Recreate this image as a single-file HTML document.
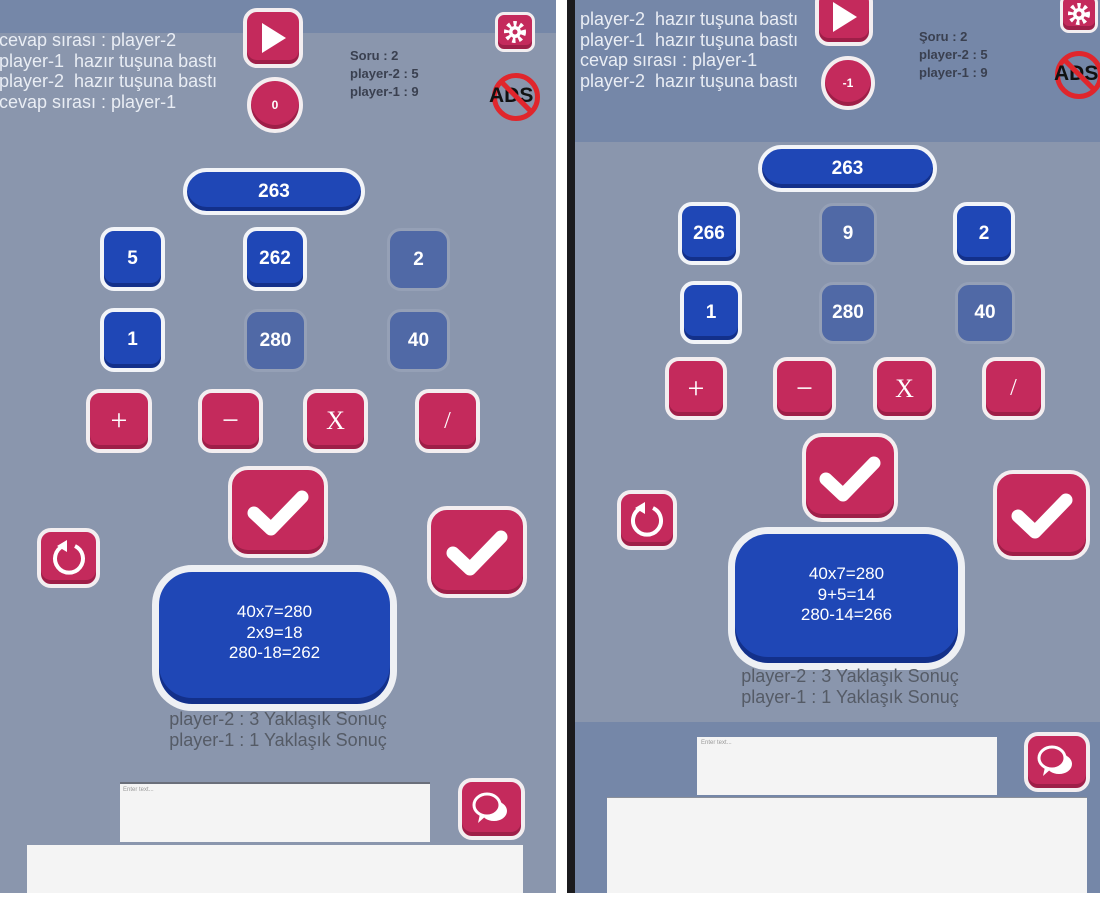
<!DOCTYPE html>
<html><head><meta charset="utf-8"><style>
*{margin:0;padding:0;box-sizing:border-box}
body{width:1100px;height:900px;overflow:hidden;background:#fff;position:relative;font-family:"Liberation Sans",sans-serif}
.a{position:absolute}
.pk{position:absolute;background:#c42a5c;border:4px solid #f3eef0;border-radius:14px;display:flex;align-items:center;justify-content:center;color:#fff;box-shadow:inset 0 -4px 0 #9e1f48}
.bl{position:absolute;background:#1f47b6;border:4px solid #f2f4f8;border-radius:14px;display:flex;align-items:center;justify-content:center;color:#fff;font-weight:bold;font-size:19px;box-shadow:inset 0 -4px 0 #13308a}
.fd{position:absolute;background:#5069a6;border:3px solid #95a0b6;border-radius:14px;display:flex;align-items:center;justify-content:center;color:#fff;font-weight:bold;font-size:19px}
.log{position:absolute;color:#e9edf4;font-size:18px;line-height:20.5px;white-space:pre}
.sc{position:absolute;color:#3a4050;font-size:13px;font-weight:bold;line-height:18px}
.res{position:absolute;background:#1f47b6;border:7px solid #eef0f4;border-radius:40px;color:#fff;font-size:17px;text-align:center;line-height:20.5px;box-shadow:inset 0 -6px 0 #13308a}
.yak{position:absolute;color:#555b66;font-size:18px;line-height:21px;text-align:center;white-space:nowrap}
.op{font-size:30px;font-family:"Liberation Serif",serif}
</style></head><body>
<div class="a" style="left:0;top:0;width:556px;height:893px;background:#8a96ad"></div>
<div class="a" style="left:0;top:0;width:556px;height:33px;background:#7587a8"></div>
<div class="a" style="left:556px;top:0;width:11px;height:900px;background:#fff"></div>
<div class="a" style="left:567px;top:0;width:8px;height:893px;background:#1b1b1e"></div>
<div class="a" style="left:575px;top:0;width:525px;height:893px;background:#8a96ad"></div>
<div class="a" style="left:575px;top:0;width:525px;height:142px;background:#7587a8"></div>
<div class="a" style="left:575px;top:722px;width:525px;height:171px;background:#7587a8"></div>

<!-- LEFT CONTENT -->
<div class="log" style="left:-1px;top:30px">cevap sırası : player-2
player-1  hazır tuşuna bastı
player-2  hazır tuşuna bastı
cevap sırası : player-1</div>
<div class="pk" style="left:243px;top:8px;width:60px;height:60px"><svg width="30" height="34"><polygon points="4,2 28,17 4,32" fill="#fff"/></svg></div>
<div class="pk" style="left:247px;top:77px;width:56px;height:56px;border-radius:50%;font-size:12px;font-weight:bold">0</div>
<div class="sc" style="left:350px;top:47px">Soru : 2<br>player-2 : 5<br>player-1 : 9</div>
<div class="pk" style="left:495px;top:12px;width:40px;height:40px;border-radius:9px;border-width:3px"><svg width="24" height="24"><circle cx="12" cy="12" r="8" fill="none" stroke="#fff" stroke-width="6" stroke-dasharray="3 3"/><circle cx="12" cy="12" r="6" fill="#fff"/><circle cx="12" cy="12" r="2.5" fill="#c42a5c"/></svg></div>
<div class="a" style="left:492px;top:73px;width:48px;height:48px;border:5px solid #e0262c;border-radius:50%"></div>
<div class="a" style="left:489px;top:84px;font-size:21px;font-weight:bold;color:#111">ADS</div>
<div class="a" style="left:494px;top:94px;width:44px;height:5px;background:#e0262c;transform:rotate(45deg)"></div>

<div class="bl" style="left:183px;top:168px;width:182px;height:47px;border-radius:24px">263</div>
<div class="bl" style="left:100px;top:227px;width:65px;height:64px">5</div>
<div class="bl" style="left:243px;top:227px;width:64px;height:64px">262</div>
<div class="fd" style="left:387px;top:228px;width:63px;height:63px">2</div>
<div class="bl" style="left:100px;top:308px;width:65px;height:64px">1</div>
<div class="fd" style="left:244px;top:309px;width:63px;height:63px">280</div>
<div class="fd" style="left:387px;top:309px;width:63px;height:63px">40</div>
<div class="pk op" style="left:86px;top:389px;width:66px;height:64px">+</div>
<div class="pk op" style="left:198px;top:389px;width:65px;height:64px">−</div>
<div class="pk op" style="left:303px;top:389px;width:65px;height:64px;font-size:26px">X</div>
<div class="pk op" style="left:415px;top:389px;width:65px;height:64px;font-size:24px">/</div>
<div class="pk" style="left:228px;top:466px;width:100px;height:92px;border-radius:20px"><svg width="64" height="50"><polyline points="8,26 25,42 56,10" fill="none" stroke="#fff" stroke-width="13" stroke-linecap="round" stroke-linejoin="round"/></svg></div>
<div class="pk" style="left:427px;top:506px;width:100px;height:92px;border-radius:20px"><svg width="64" height="50"><polyline points="8,26 25,42 56,10" fill="none" stroke="#fff" stroke-width="13" stroke-linecap="round" stroke-linejoin="round"/></svg></div>
<div class="pk" style="left:37px;top:528px;width:63px;height:60px"><svg width="40" height="40"><path d="M14 8 A14 14 0 1 0 26 8" fill="none" stroke="#fff" stroke-width="4"/><polygon points="8,8 18,2 18,14" fill="#fff"/></svg></div>
<div class="res" style="left:152px;top:565px;width:245px;height:146px;padding-top:30px">40x7=280<br>2x9=18<br>280-18=262</div>
<div class="yak" style="left:150px;top:709px;width:256px">player-2 : 3 Yaklaşık Sonuç<br>player-1 : 1 Yaklaşık Sonuç</div>
<div class="a" style="left:120px;top:782px;width:310px;height:60px;background:#f4f4f4;border-top:2px solid #6a6f7a;font-size:6px;color:#999;padding:3px">Enter text...</div>
<div class="pk" style="left:458px;top:778px;width:67px;height:62px"><svg width="40" height="38"><ellipse cx="22" cy="21" rx="13" ry="10" fill="#fff"/><ellipse cx="15" cy="15" rx="13" ry="11" fill="#c42a5c" stroke="#fff" stroke-width="3"/><polygon points="8,24 6,33 15,25" fill="#fff"/></svg></div>
<div class="a" style="left:27px;top:845px;width:496px;height:48px;background:#f4f4f4"></div>

<!-- RIGHT CONTENT -->
<div class="log" style="left:580px;top:9px">player-2  hazır tuşuna bastı
player-1  hazır tuşuna bastı
cevap sırası : player-1
player-2  hazır tuşuna bastı</div>
<div class="pk" style="left:815px;top:-12px;width:58px;height:58px"><svg width="30" height="34"><polygon points="4,2 28,17 4,32" fill="#fff"/></svg></div>
<div class="pk" style="left:821px;top:56px;width:54px;height:54px;border-radius:50%;font-size:12px;font-weight:bold">-1</div>
<div class="sc" style="left:919px;top:28px">Şoru : 2<br>player-2 : 5<br>player-1 : 9</div>
<div class="pk" style="left:1060px;top:-6px;width:38px;height:39px;border-radius:9px;border-width:3px"><svg width="24" height="24"><circle cx="12" cy="12" r="8" fill="none" stroke="#fff" stroke-width="6" stroke-dasharray="3 3"/><circle cx="12" cy="12" r="6" fill="#fff"/><circle cx="12" cy="12" r="2.5" fill="#c42a5c"/></svg></div>
<div class="a" style="left:1055px;top:51px;width:48px;height:48px;border:5px solid #e0262c;border-radius:50%"></div>
<div class="a" style="left:1054px;top:62px;font-size:21px;font-weight:bold;color:#111">ADS</div>
<div class="a" style="left:1057px;top:72px;width:44px;height:5px;background:#e0262c;transform:rotate(45deg)"></div>

<div class="bl" style="left:758px;top:145px;width:179px;height:47px;border-radius:24px">263</div>
<div class="bl" style="left:678px;top:202px;width:62px;height:63px">266</div>
<div class="fd" style="left:819px;top:203px;width:58px;height:62px">9</div>
<div class="bl" style="left:953px;top:202px;width:62px;height:63px">2</div>
<div class="bl" style="left:680px;top:281px;width:62px;height:63px">1</div>
<div class="fd" style="left:819px;top:282px;width:58px;height:62px">280</div>
<div class="fd" style="left:955px;top:282px;width:60px;height:62px">40</div>
<div class="pk op" style="left:665px;top:357px;width:62px;height:63px">+</div>
<div class="pk op" style="left:773px;top:357px;width:63px;height:63px">−</div>
<div class="pk op" style="left:873px;top:357px;width:63px;height:63px;font-size:26px">X</div>
<div class="pk op" style="left:982px;top:357px;width:63px;height:63px;font-size:24px">/</div>
<div class="pk" style="left:802px;top:433px;width:96px;height:89px;border-radius:20px"><svg width="64" height="50"><polyline points="8,26 25,42 56,10" fill="none" stroke="#fff" stroke-width="13" stroke-linecap="round" stroke-linejoin="round"/></svg></div>
<div class="pk" style="left:993px;top:470px;width:97px;height:90px;border-radius:20px"><svg width="64" height="50"><polyline points="8,26 25,42 56,10" fill="none" stroke="#fff" stroke-width="13" stroke-linecap="round" stroke-linejoin="round"/></svg></div>
<div class="pk" style="left:617px;top:490px;width:60px;height:60px"><svg width="40" height="40"><path d="M14 8 A14 14 0 1 0 26 8" fill="none" stroke="#fff" stroke-width="4"/><polygon points="8,8 18,2 18,14" fill="#fff"/></svg></div>
<div class="res" style="left:728px;top:527px;width:237px;height:143px;padding-top:30px">40x7=280<br>9+5=14<br>280-14=266</div>
<div class="yak" style="left:722px;top:666px;width:256px">player-2 : 3 Yaklaşık Sonuç<br>player-1 : 1 Yaklaşık Sonuç</div>
<div class="a" style="left:697px;top:737px;width:300px;height:58px;background:#f4f4f4;font-size:6px;color:#999;padding:3px 4px">Enter text...</div>
<div class="pk" style="left:1024px;top:732px;width:66px;height:60px"><svg width="40" height="38"><ellipse cx="22" cy="21" rx="13" ry="10" fill="#fff"/><ellipse cx="15" cy="15" rx="13" ry="11" fill="#c42a5c" stroke="#fff" stroke-width="3"/><polygon points="8,24 6,33 15,25" fill="#fff"/></svg></div>
<div class="a" style="left:607px;top:797px;width:480px;height:96px;background:#f4f4f4;border-top:1px solid #8a8f99"></div>
</body></html>
